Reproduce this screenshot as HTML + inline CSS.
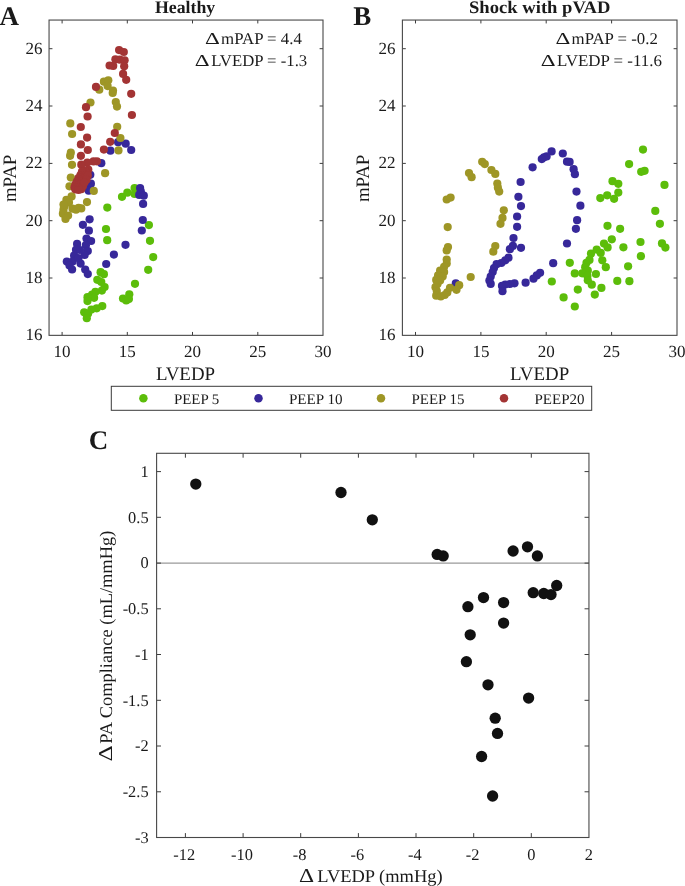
<!DOCTYPE html>
<html><head><meta charset="utf-8"><title>Figure</title>
<style>
html,body{margin:0;padding:0;background:#fff;}
body{width:685px;height:886px;overflow:hidden;}
svg{display:block;will-change:transform;}
text{font-family:"Liberation Serif",serif;fill:#1a1a1a;text-rendering:geometricPrecision;}
.tk{font-size:17px;}
.lb{font-size:19px;}
.an{font-size:16.4px;}
.tc{font-size:16.4px;}
.lc{font-size:17.9px;}
.lg{font-size:14.6px;}
.ti{font-size:17.6px;font-weight:bold;}
.pl{font-size:27px;font-weight:bold;}
</style></head><body>
<svg width="685" height="886" viewBox="0 0 685 886">
<rect width="685" height="886" fill="#fff"/>

<g id="panelA">
<circle cx="107.3" cy="207.6" r="4.1" fill="#5CBD0A"/><circle cx="106.0" cy="229.0" r="4.1" fill="#5CBD0A"/><circle cx="107.2" cy="240.2" r="4.1" fill="#5CBD0A"/><circle cx="122.0" cy="196.8" r="4.1" fill="#5CBD0A"/><circle cx="127.3" cy="192.7" r="4.1" fill="#5CBD0A"/><circle cx="134.6" cy="188.1" r="4.1" fill="#5CBD0A"/><circle cx="134.6" cy="193.9" r="4.1" fill="#5CBD0A"/><circle cx="148.9" cy="225.1" r="4.1" fill="#5CBD0A"/><circle cx="150.0" cy="240.8" r="4.1" fill="#5CBD0A"/><circle cx="153.2" cy="257.1" r="4.1" fill="#5CBD0A"/><circle cx="148.2" cy="269.8" r="4.1" fill="#5CBD0A"/><circle cx="135.0" cy="283.8" r="4.1" fill="#5CBD0A"/><circle cx="129.3" cy="294.3" r="4.1" fill="#5CBD0A"/><circle cx="123.0" cy="298.5" r="4.1" fill="#5CBD0A"/><circle cx="126.2" cy="300.4" r="4.1" fill="#5CBD0A"/><circle cx="128.9" cy="299.1" r="4.1" fill="#5CBD0A"/><circle cx="100.6" cy="272.2" r="4.1" fill="#5CBD0A"/><circle cx="103.9" cy="274.2" r="4.1" fill="#5CBD0A"/><circle cx="97.3" cy="279.8" r="4.1" fill="#5CBD0A"/><circle cx="101.3" cy="282.0" r="4.1" fill="#5CBD0A"/><circle cx="104.6" cy="287.0" r="4.1" fill="#5CBD0A"/><circle cx="101.9" cy="290.6" r="4.1" fill="#5CBD0A"/><circle cx="95.4" cy="291.9" r="4.1" fill="#5CBD0A"/><circle cx="92.1" cy="294.5" r="4.1" fill="#5CBD0A"/><circle cx="94.1" cy="297.8" r="4.1" fill="#5CBD0A"/><circle cx="87.5" cy="297.2" r="4.1" fill="#5CBD0A"/><circle cx="87.5" cy="301.1" r="4.1" fill="#5CBD0A"/><circle cx="102.3" cy="306.1" r="4.1" fill="#5CBD0A"/><circle cx="96.7" cy="308.3" r="4.1" fill="#5CBD0A"/><circle cx="91.4" cy="309.6" r="4.1" fill="#5CBD0A"/><circle cx="84.2" cy="312.3" r="4.1" fill="#5CBD0A"/><circle cx="88.1" cy="313.6" r="4.1" fill="#5CBD0A"/><circle cx="86.8" cy="318.2" r="4.1" fill="#5CBD0A"/><circle cx="118.1" cy="142.2" r="4.1" fill="#37289A"/><circle cx="125.7" cy="143.7" r="4.1" fill="#37289A"/><circle cx="110.4" cy="150.7" r="4.1" fill="#37289A"/><circle cx="131.2" cy="150.0" r="4.1" fill="#37289A"/><circle cx="101.3" cy="163.2" r="4.1" fill="#37289A"/><circle cx="90.3" cy="174.8" r="4.1" fill="#37289A"/><circle cx="90.9" cy="183.7" r="4.1" fill="#37289A"/><circle cx="89.6" cy="186.8" r="4.1" fill="#37289A"/><circle cx="88.7" cy="190.7" r="4.1" fill="#37289A"/><circle cx="140.1" cy="188.1" r="4.1" fill="#37289A"/><circle cx="140.8" cy="191.3" r="4.1" fill="#37289A"/><circle cx="139.2" cy="194.9" r="4.1" fill="#37289A"/><circle cx="143.8" cy="195.7" r="4.1" fill="#37289A"/><circle cx="143.1" cy="203.9" r="4.1" fill="#37289A"/><circle cx="142.8" cy="220.0" r="4.1" fill="#37289A"/><circle cx="141.8" cy="230.5" r="4.1" fill="#37289A"/><circle cx="125.5" cy="244.8" r="4.1" fill="#37289A"/><circle cx="113.9" cy="254.6" r="4.1" fill="#37289A"/><circle cx="106.2" cy="264.0" r="4.1" fill="#37289A"/><circle cx="89.6" cy="219.3" r="4.1" fill="#37289A"/><circle cx="82.9" cy="224.8" r="4.1" fill="#37289A"/><circle cx="88.9" cy="230.7" r="4.1" fill="#37289A"/><circle cx="86.5" cy="238.6" r="4.1" fill="#37289A"/><circle cx="91.1" cy="241.0" r="4.1" fill="#37289A"/><circle cx="77.1" cy="243.9" r="4.1" fill="#37289A"/><circle cx="85.9" cy="245.2" r="4.1" fill="#37289A"/><circle cx="76.0" cy="249.8" r="4.1" fill="#37289A"/><circle cx="87.8" cy="251.1" r="4.1" fill="#37289A"/><circle cx="84.6" cy="255.0" r="4.1" fill="#37289A"/><circle cx="74.1" cy="255.7" r="4.1" fill="#37289A"/><circle cx="66.8" cy="261.6" r="4.1" fill="#37289A"/><circle cx="72.7" cy="261.6" r="4.1" fill="#37289A"/><circle cx="80.6" cy="263.6" r="4.1" fill="#37289A"/><circle cx="69.5" cy="265.5" r="4.1" fill="#37289A"/><circle cx="72.1" cy="269.5" r="4.1" fill="#37289A"/><circle cx="85.2" cy="269.5" r="4.1" fill="#37289A"/><circle cx="87.8" cy="274.1" r="4.1" fill="#37289A"/><circle cx="80.0" cy="250.0" r="4.1" fill="#37289A"/><circle cx="78.5" cy="258.0" r="4.1" fill="#37289A"/><circle cx="103.9" cy="81.7" r="4.1" fill="#9E9626"/><circle cx="108.3" cy="80.3" r="4.1" fill="#9E9626"/><circle cx="107.6" cy="86.1" r="4.1" fill="#9E9626"/><circle cx="99.3" cy="89.7" r="4.1" fill="#9E9626"/><circle cx="113.0" cy="90.5" r="4.1" fill="#9E9626"/><circle cx="112.7" cy="93.0" r="4.1" fill="#9E9626"/><circle cx="90.5" cy="102.5" r="4.1" fill="#9E9626"/><circle cx="115.8" cy="102.1" r="4.1" fill="#9E9626"/><circle cx="117.0" cy="106.6" r="4.1" fill="#9E9626"/><circle cx="70.3" cy="123.4" r="4.1" fill="#9E9626"/><circle cx="117.2" cy="126.8" r="4.1" fill="#9E9626"/><circle cx="72.1" cy="134.0" r="4.1" fill="#9E9626"/><circle cx="120.4" cy="138.0" r="4.1" fill="#9E9626"/><circle cx="118.5" cy="150.4" r="4.1" fill="#9E9626"/><circle cx="70.8" cy="152.7" r="4.1" fill="#9E9626"/><circle cx="70.1" cy="155.8" r="4.1" fill="#9E9626"/><circle cx="72.0" cy="164.8" r="4.1" fill="#9E9626"/><circle cx="105.1" cy="173.2" r="4.1" fill="#9E9626"/><circle cx="70.8" cy="177.6" r="4.1" fill="#9E9626"/><circle cx="69.5" cy="186.3" r="4.1" fill="#9E9626"/><circle cx="93.8" cy="190.9" r="4.1" fill="#9E9626"/><circle cx="71.6" cy="196.4" r="4.1" fill="#9E9626"/><circle cx="66.4" cy="199.9" r="4.1" fill="#9E9626"/><circle cx="69.0" cy="202.4" r="4.1" fill="#9E9626"/><circle cx="87.0" cy="202.1" r="4.1" fill="#9E9626"/><circle cx="64.6" cy="206.1" r="4.1" fill="#9E9626"/><circle cx="78.6" cy="207.8" r="4.1" fill="#9E9626"/><circle cx="72.5" cy="208.7" r="4.1" fill="#9E9626"/><circle cx="81.3" cy="208.4" r="4.1" fill="#9E9626"/><circle cx="76.0" cy="209.7" r="4.1" fill="#9E9626"/><circle cx="63.5" cy="209.7" r="4.1" fill="#9E9626"/><circle cx="62.9" cy="213.7" r="4.1" fill="#9E9626"/><circle cx="68.1" cy="215.6" r="4.1" fill="#9E9626"/><circle cx="65.5" cy="218.9" r="4.1" fill="#9E9626"/><circle cx="63.5" cy="204.5" r="4.1" fill="#9E9626"/><circle cx="119.1" cy="50.1" r="4.1" fill="#A33434"/><circle cx="123.8" cy="52.0" r="4.1" fill="#A33434"/><circle cx="115.4" cy="59.3" r="4.1" fill="#A33434"/><circle cx="119.8" cy="59.7" r="4.1" fill="#A33434"/><circle cx="124.6" cy="60.3" r="4.1" fill="#A33434"/><circle cx="109.6" cy="65.5" r="4.1" fill="#A33434"/><circle cx="113.2" cy="65.9" r="4.1" fill="#A33434"/><circle cx="124.2" cy="66.3" r="4.1" fill="#A33434"/><circle cx="123.1" cy="73.9" r="4.1" fill="#A33434"/><circle cx="126.2" cy="79.8" r="4.1" fill="#A33434"/><circle cx="96.0" cy="86.9" r="4.1" fill="#A33434"/><circle cx="131.2" cy="93.8" r="4.1" fill="#A33434"/><circle cx="86.0" cy="107.2" r="4.1" fill="#A33434"/><circle cx="87.6" cy="116.5" r="4.1" fill="#A33434"/><circle cx="131.9" cy="115.0" r="4.1" fill="#A33434"/><circle cx="80.8" cy="127.0" r="4.1" fill="#A33434"/><circle cx="114.8" cy="133.0" r="4.1" fill="#A33434"/><circle cx="87.1" cy="137.6" r="4.1" fill="#A33434"/><circle cx="110.2" cy="141.8" r="4.1" fill="#A33434"/><circle cx="80.9" cy="144.4" r="4.1" fill="#A33434"/><circle cx="87.8" cy="150.0" r="4.1" fill="#A33434"/><circle cx="103.9" cy="149.6" r="4.1" fill="#A33434"/><circle cx="80.9" cy="155.8" r="4.1" fill="#A33434"/><circle cx="96.9" cy="161.3" r="4.1" fill="#A33434"/><circle cx="93.5" cy="161.4" r="4.1" fill="#A33434"/><circle cx="87.3" cy="162.6" r="4.1" fill="#A33434"/><circle cx="81.3" cy="164.7" r="4.1" fill="#A33434"/><circle cx="88.3" cy="169.7" r="4.1" fill="#A33434"/><circle cx="85.0" cy="170.5" r="4.1" fill="#A33434"/><circle cx="82.0" cy="171.5" r="4.1" fill="#A33434"/><circle cx="86.5" cy="172.8" r="4.1" fill="#A33434"/><circle cx="83.5" cy="173.8" r="4.1" fill="#A33434"/><circle cx="80.5" cy="175.0" r="4.1" fill="#A33434"/><circle cx="84.8" cy="175.8" r="4.1" fill="#A33434"/><circle cx="81.5" cy="177.0" r="4.1" fill="#A33434"/><circle cx="78.5" cy="178.2" r="4.1" fill="#A33434"/><circle cx="83.0" cy="178.8" r="4.1" fill="#A33434"/><circle cx="79.8" cy="180.0" r="4.1" fill="#A33434"/><circle cx="77.0" cy="181.3" r="4.1" fill="#A33434"/><circle cx="81.0" cy="181.8" r="4.1" fill="#A33434"/><circle cx="78.0" cy="183.0" r="4.1" fill="#A33434"/><circle cx="75.5" cy="184.3" r="4.1" fill="#A33434"/><circle cx="79.0" cy="184.8" r="4.1" fill="#A33434"/><circle cx="76.3" cy="186.0" r="4.1" fill="#A33434"/><circle cx="74.5" cy="187.3" r="4.1" fill="#A33434"/><circle cx="77.5" cy="187.8" r="4.1" fill="#A33434"/><circle cx="75.3" cy="189.3" r="4.1" fill="#A33434"/><circle cx="87.8" cy="175.4" r="4.1" fill="#A33434"/><circle cx="86.5" cy="179.8" r="4.1" fill="#A33434"/><circle cx="83.0" cy="185.9" r="4.1" fill="#A33434"/><circle cx="81.3" cy="189.2" r="4.1" fill="#A33434"/><circle cx="78.5" cy="190.0" r="4.1" fill="#A33434"/><circle cx="84.5" cy="182.5" r="4.1" fill="#A33434"/>
<path d="M62.1 335.35V331.95000000000005M62.1 20.05V23.45" stroke="#3c3c3c" stroke-width="1"/><path d="M127.3 335.35V331.95000000000005M127.3 20.05V23.45" stroke="#3c3c3c" stroke-width="1"/><path d="M192.5 335.35V331.95000000000005M192.5 20.05V23.45" stroke="#3c3c3c" stroke-width="1"/><path d="M257.8 335.35V331.95000000000005M257.8 20.05V23.45" stroke="#3c3c3c" stroke-width="1"/><path d="M49.05 278.0H52.449999999999996M323.0 278.0H319.6" stroke="#3c3c3c" stroke-width="1"/><path d="M49.05 220.7H52.449999999999996M323.0 220.7H319.6" stroke="#3c3c3c" stroke-width="1"/><path d="M49.05 163.4H52.449999999999996M323.0 163.4H319.6" stroke="#3c3c3c" stroke-width="1"/><path d="M49.05 106.0H52.449999999999996M323.0 106.0H319.6" stroke="#3c3c3c" stroke-width="1"/><path d="M49.05 48.7H52.449999999999996M323.0 48.7H319.6" stroke="#3c3c3c" stroke-width="1"/><rect x="49.05" y="20.05" width="273.95" height="315.3" fill="none" stroke="#484848" stroke-width="1.1"/>
<text class="tk" x="62.1" y="357.2" text-anchor="middle">10</text>
<text class="tk" x="127.3" y="357.2" text-anchor="middle">15</text>
<text class="tk" x="192.5" y="357.2" text-anchor="middle">20</text>
<text class="tk" x="257.8" y="357.2" text-anchor="middle">25</text>
<text class="tk" x="323.0" y="357.2" text-anchor="middle">30</text>
<text class="tk" x="42.6" y="340.2" text-anchor="end">16</text>
<text class="tk" x="42.6" y="282.9" text-anchor="end">18</text>
<text class="tk" x="42.6" y="225.6" text-anchor="end">20</text>
<text class="tk" x="42.6" y="168.3" text-anchor="end">22</text>
<text class="tk" x="42.6" y="110.9" text-anchor="end">24</text>
<text class="tk" x="42.6" y="53.6" text-anchor="end">26</text>
<text class="ti" x="155.0" y="12.7" textLength="60.2" lengthAdjust="spacingAndGlyphs">Healthy</text>
<text class="pl" x="-0.4" y="24.8">A</text>
<text class="lb" x="155.9" y="379.8" textLength="59.2" lengthAdjust="spacingAndGlyphs">LVEDP</text>
<text class="lb" transform="translate(16.3,202.1) rotate(-90)" textLength="47.4" lengthAdjust="spacingAndGlyphs">mPAP</text>
<text font-size="16.7" transform="translate(204.9,44.1) scale(1.38,1)">Δ</text><text class="an" x="221.1" y="44.1" textLength="80.8" lengthAdjust="spacingAndGlyphs">mPAP = 4.4</text>
<text font-size="16.7" transform="translate(194.8,65.9) scale(1.38,1)">Δ</text><text class="an" x="211.2" y="65.9" textLength="96.0" lengthAdjust="spacingAndGlyphs">LVEDP = -1.3</text>
</g>
<g id="panelB">
<circle cx="643.0" cy="149.6" r="4.1" fill="#5CBD0A"/><circle cx="629.1" cy="164.1" r="4.1" fill="#5CBD0A"/><circle cx="641.2" cy="171.8" r="4.1" fill="#5CBD0A"/><circle cx="644.6" cy="170.8" r="4.1" fill="#5CBD0A"/><circle cx="612.5" cy="181.2" r="4.1" fill="#5CBD0A"/><circle cx="618.3" cy="183.8" r="4.1" fill="#5CBD0A"/><circle cx="664.5" cy="184.9" r="4.1" fill="#5CBD0A"/><circle cx="618.3" cy="192.6" r="4.1" fill="#5CBD0A"/><circle cx="607.2" cy="195.3" r="4.1" fill="#5CBD0A"/><circle cx="600.3" cy="198.1" r="4.1" fill="#5CBD0A"/><circle cx="614.1" cy="198.8" r="4.1" fill="#5CBD0A"/><circle cx="655.3" cy="210.9" r="4.1" fill="#5CBD0A"/><circle cx="659.9" cy="223.8" r="4.1" fill="#5CBD0A"/><circle cx="607.5" cy="225.8" r="4.1" fill="#5CBD0A"/><circle cx="620.1" cy="228.8" r="4.1" fill="#5CBD0A"/><circle cx="611.8" cy="239.3" r="4.1" fill="#5CBD0A"/><circle cx="640.5" cy="242.0" r="4.1" fill="#5CBD0A"/><circle cx="662.0" cy="243.4" r="4.1" fill="#5CBD0A"/><circle cx="665.4" cy="247.6" r="4.1" fill="#5CBD0A"/><circle cx="604.0" cy="243.6" r="4.1" fill="#5CBD0A"/><circle cx="607.6" cy="247.4" r="4.1" fill="#5CBD0A"/><circle cx="623.4" cy="247.3" r="4.1" fill="#5CBD0A"/><circle cx="596.7" cy="249.6" r="4.1" fill="#5CBD0A"/><circle cx="600.7" cy="252.9" r="4.1" fill="#5CBD0A"/><circle cx="591.0" cy="253.6" r="4.1" fill="#5CBD0A"/><circle cx="640.9" cy="256.2" r="4.1" fill="#5CBD0A"/><circle cx="602.3" cy="260.3" r="4.1" fill="#5CBD0A"/><circle cx="589.5" cy="259.9" r="4.1" fill="#5CBD0A"/><circle cx="586.5" cy="262.8" r="4.1" fill="#5CBD0A"/><circle cx="569.8" cy="262.8" r="4.1" fill="#5CBD0A"/><circle cx="585.2" cy="267.2" r="4.1" fill="#5CBD0A"/><circle cx="605.8" cy="267.2" r="4.1" fill="#5CBD0A"/><circle cx="628.1" cy="266.3" r="4.1" fill="#5CBD0A"/><circle cx="587.8" cy="270.7" r="4.1" fill="#5CBD0A"/><circle cx="582.2" cy="273.3" r="4.1" fill="#5CBD0A"/><circle cx="574.8" cy="273.4" r="4.1" fill="#5CBD0A"/><circle cx="595.9" cy="274.0" r="4.1" fill="#5CBD0A"/><circle cx="587.4" cy="275.9" r="4.1" fill="#5CBD0A"/><circle cx="587.8" cy="280.3" r="4.1" fill="#5CBD0A"/><circle cx="617.3" cy="280.9" r="4.1" fill="#5CBD0A"/><circle cx="629.4" cy="281.2" r="4.1" fill="#5CBD0A"/><circle cx="551.8" cy="281.5" r="4.1" fill="#5CBD0A"/><circle cx="591.8" cy="284.7" r="4.1" fill="#5CBD0A"/><circle cx="601.4" cy="287.9" r="4.1" fill="#5CBD0A"/><circle cx="577.8" cy="289.6" r="4.1" fill="#5CBD0A"/><circle cx="594.8" cy="294.6" r="4.1" fill="#5CBD0A"/><circle cx="563.6" cy="297.4" r="4.1" fill="#5CBD0A"/><circle cx="574.8" cy="306.5" r="4.1" fill="#5CBD0A"/><circle cx="455.8" cy="283.4" r="4.1" fill="#37289A"/><circle cx="551.6" cy="151.4" r="4.1" fill="#37289A"/><circle cx="562.8" cy="153.5" r="4.1" fill="#37289A"/><circle cx="546.6" cy="156.4" r="4.1" fill="#37289A"/><circle cx="544.0" cy="157.3" r="4.1" fill="#37289A"/><circle cx="541.8" cy="159.1" r="4.1" fill="#37289A"/><circle cx="567.0" cy="161.7" r="4.1" fill="#37289A"/><circle cx="569.6" cy="161.9" r="4.1" fill="#37289A"/><circle cx="532.6" cy="167.3" r="4.1" fill="#37289A"/><circle cx="573.6" cy="169.2" r="4.1" fill="#37289A"/><circle cx="574.9" cy="174.2" r="4.1" fill="#37289A"/><circle cx="520.6" cy="182.0" r="4.1" fill="#37289A"/><circle cx="576.5" cy="191.6" r="4.1" fill="#37289A"/><circle cx="518.4" cy="196.8" r="4.1" fill="#37289A"/><circle cx="580.4" cy="205.7" r="4.1" fill="#37289A"/><circle cx="521.0" cy="206.1" r="4.1" fill="#37289A"/><circle cx="517.1" cy="216.5" r="4.1" fill="#37289A"/><circle cx="577.1" cy="220.2" r="4.1" fill="#37289A"/><circle cx="517.1" cy="226.8" r="4.1" fill="#37289A"/><circle cx="575.9" cy="228.8" r="4.1" fill="#37289A"/><circle cx="513.5" cy="238.0" r="4.1" fill="#37289A"/><circle cx="567.0" cy="243.5" r="4.1" fill="#37289A"/><circle cx="512.9" cy="245.9" r="4.1" fill="#37289A"/><circle cx="509.9" cy="249.2" r="4.1" fill="#37289A"/><circle cx="521.0" cy="247.8" r="4.1" fill="#37289A"/><circle cx="508.5" cy="257.7" r="4.1" fill="#37289A"/><circle cx="505.3" cy="260.3" r="4.1" fill="#37289A"/><circle cx="501.3" cy="263.0" r="4.1" fill="#37289A"/><circle cx="553.2" cy="263.2" r="4.1" fill="#37289A"/><circle cx="540.1" cy="272.8" r="4.1" fill="#37289A"/><circle cx="536.8" cy="275.4" r="4.1" fill="#37289A"/><circle cx="533.5" cy="278.7" r="4.1" fill="#37289A"/><circle cx="525.6" cy="282.7" r="4.1" fill="#37289A"/><circle cx="514.5" cy="283.3" r="4.1" fill="#37289A"/><circle cx="509.9" cy="284.0" r="4.1" fill="#37289A"/><circle cx="505.3" cy="284.6" r="4.1" fill="#37289A"/><circle cx="502.0" cy="285.9" r="4.1" fill="#37289A"/><circle cx="502.5" cy="291.2" r="4.1" fill="#37289A"/><circle cx="496.6" cy="264.2" r="4.1" fill="#37289A"/><circle cx="494.0" cy="268.1" r="4.1" fill="#37289A"/><circle cx="492.7" cy="272.0" r="4.1" fill="#37289A"/><circle cx="490.7" cy="276.6" r="4.1" fill="#37289A"/><circle cx="489.4" cy="280.6" r="4.1" fill="#37289A"/><circle cx="490.7" cy="283.9" r="4.1" fill="#37289A"/><circle cx="482.2" cy="161.8" r="4.1" fill="#9E9626"/><circle cx="484.8" cy="164.1" r="4.1" fill="#9E9626"/><circle cx="491.4" cy="170.0" r="4.1" fill="#9E9626"/><circle cx="495.3" cy="173.9" r="4.1" fill="#9E9626"/><circle cx="469.0" cy="173.0" r="4.1" fill="#9E9626"/><circle cx="471.6" cy="177.2" r="4.1" fill="#9E9626"/><circle cx="497.3" cy="183.5" r="4.1" fill="#9E9626"/><circle cx="497.9" cy="187.7" r="4.1" fill="#9E9626"/><circle cx="499.2" cy="191.6" r="4.1" fill="#9E9626"/><circle cx="446.7" cy="199.5" r="4.1" fill="#9E9626"/><circle cx="450.6" cy="197.6" r="4.1" fill="#9E9626"/><circle cx="503.8" cy="210.3" r="4.1" fill="#9E9626"/><circle cx="502.5" cy="217.9" r="4.1" fill="#9E9626"/><circle cx="500.5" cy="223.8" r="4.1" fill="#9E9626"/><circle cx="447.7" cy="227.1" r="4.1" fill="#9E9626"/><circle cx="448.0" cy="247.1" r="4.1" fill="#9E9626"/><circle cx="446.7" cy="250.4" r="4.1" fill="#9E9626"/><circle cx="446.7" cy="259.6" r="4.1" fill="#9E9626"/><circle cx="446.7" cy="263.5" r="4.1" fill="#9E9626"/><circle cx="444.1" cy="266.8" r="4.1" fill="#9E9626"/><circle cx="440.1" cy="270.7" r="4.1" fill="#9E9626"/><circle cx="444.1" cy="272.0" r="4.1" fill="#9E9626"/><circle cx="438.1" cy="275.3" r="4.1" fill="#9E9626"/><circle cx="442.7" cy="276.6" r="4.1" fill="#9E9626"/><circle cx="436.2" cy="279.9" r="4.1" fill="#9E9626"/><circle cx="440.1" cy="280.6" r="4.1" fill="#9E9626"/><circle cx="437.5" cy="283.9" r="4.1" fill="#9E9626"/><circle cx="435.5" cy="287.2" r="4.1" fill="#9E9626"/><circle cx="436.8" cy="291.1" r="4.1" fill="#9E9626"/><circle cx="436.2" cy="295.7" r="4.1" fill="#9E9626"/><circle cx="440.8" cy="296.4" r="4.1" fill="#9E9626"/><circle cx="444.7" cy="295.0" r="4.1" fill="#9E9626"/><circle cx="447.3" cy="292.4" r="4.1" fill="#9E9626"/><circle cx="450.0" cy="287.8" r="4.1" fill="#9E9626"/><circle cx="456.5" cy="289.8" r="4.1" fill="#9E9626"/><circle cx="459.2" cy="285.2" r="4.1" fill="#9E9626"/><circle cx="470.7" cy="277.0" r="4.1" fill="#9E9626"/><circle cx="495.3" cy="246.0" r="4.1" fill="#9E9626"/><circle cx="493.3" cy="251.7" r="4.1" fill="#9E9626"/>
<path d="M415.5 335.35V331.95000000000005M415.5 20.05V23.45" stroke="#3c3c3c" stroke-width="1"/><path d="M480.9 335.35V331.95000000000005M480.9 20.05V23.45" stroke="#3c3c3c" stroke-width="1"/><path d="M546.2 335.35V331.95000000000005M546.2 20.05V23.45" stroke="#3c3c3c" stroke-width="1"/><path d="M611.6 335.35V331.95000000000005M611.6 20.05V23.45" stroke="#3c3c3c" stroke-width="1"/><path d="M402.4 278.0H405.79999999999995M677.0 278.0H673.6" stroke="#3c3c3c" stroke-width="1"/><path d="M402.4 220.7H405.79999999999995M677.0 220.7H673.6" stroke="#3c3c3c" stroke-width="1"/><path d="M402.4 163.4H405.79999999999995M677.0 163.4H673.6" stroke="#3c3c3c" stroke-width="1"/><path d="M402.4 106.0H405.79999999999995M677.0 106.0H673.6" stroke="#3c3c3c" stroke-width="1"/><path d="M402.4 48.7H405.79999999999995M677.0 48.7H673.6" stroke="#3c3c3c" stroke-width="1"/><rect x="402.4" y="20.05" width="274.6" height="315.3" fill="none" stroke="#484848" stroke-width="1.1"/>
<text class="tk" x="415.5" y="357.2" text-anchor="middle">10</text>
<text class="tk" x="480.9" y="357.2" text-anchor="middle">15</text>
<text class="tk" x="546.2" y="357.2" text-anchor="middle">20</text>
<text class="tk" x="611.6" y="357.2" text-anchor="middle">25</text>
<text class="tk" x="677.0" y="357.2" text-anchor="middle">30</text>
<text class="tk" x="395.6" y="340.2" text-anchor="end">16</text>
<text class="tk" x="395.6" y="282.9" text-anchor="end">18</text>
<text class="tk" x="395.6" y="225.6" text-anchor="end">20</text>
<text class="tk" x="395.6" y="168.3" text-anchor="end">22</text>
<text class="tk" x="395.6" y="110.9" text-anchor="end">24</text>
<text class="tk" x="395.6" y="53.6" text-anchor="end">26</text>
<text class="ti" x="469.0" y="12.7" textLength="141.4" lengthAdjust="spacingAndGlyphs">Shock with pVAD</text>
<text class="pl" x="353.3" y="24.8">B</text>
<text class="lb" x="510.0" y="379.8" textLength="59.2" lengthAdjust="spacingAndGlyphs">LVEDP</text>
<text class="lb" transform="translate(369.2,202.1) rotate(-90)" textLength="47.4" lengthAdjust="spacingAndGlyphs">mPAP</text>
<text font-size="16.7" transform="translate(555.6,43.9) scale(1.38,1)">Δ</text><text class="an" x="571.6" y="43.9" textLength="86.2" lengthAdjust="spacingAndGlyphs">mPAP = -0.2</text>
<text font-size="16.7" transform="translate(540.8,65.6) scale(1.38,1)">Δ</text><text class="an" x="556.9" y="65.6" textLength="105.0" lengthAdjust="spacingAndGlyphs">LVEDP = -11.6</text>
</g>
<g id="legend">
<rect x="111.3" y="386.3" width="480.4" height="24.0" fill="#fff" stroke="#3a3a3a" stroke-width="1"/>
<circle cx="143.4" cy="398.2" r="4.25" fill="#5CBD0A"/>
<text class="lg" x="173.9" y="403.8" textLength="45.4" lengthAdjust="spacingAndGlyphs">PEEP 5</text>
<circle cx="258.5" cy="398.2" r="4.25" fill="#37289A"/>
<text class="lg" x="288.9" y="403.8" textLength="53.6" lengthAdjust="spacingAndGlyphs">PEEP 10</text>
<circle cx="381.0" cy="398.2" r="4.25" fill="#9E9626"/>
<text class="lg" x="411.5" y="403.8" textLength="53.0" lengthAdjust="spacingAndGlyphs">PEEP 15</text>
<circle cx="504.0" cy="398.2" r="4.25" fill="#A33434"/>
<text class="lg" x="534.5" y="403.8" textLength="50.0" lengthAdjust="spacingAndGlyphs">PEEP20</text>
</g>
<g id="panelC">
<path d="M156.6 563.1H588.95" stroke="#9a9a9a" stroke-width="1.2"/>
<circle cx="195.8" cy="484.1" r="5.65" fill="#111"/><circle cx="341.0" cy="492.5" r="5.65" fill="#111"/><circle cx="372.3" cy="519.8" r="5.65" fill="#111"/><circle cx="437.2" cy="554.4" r="5.65" fill="#111"/><circle cx="443.2" cy="555.9" r="5.65" fill="#111"/><circle cx="513.1" cy="551.0" r="5.65" fill="#111"/><circle cx="527.5" cy="546.8" r="5.65" fill="#111"/><circle cx="537.4" cy="555.9" r="5.65" fill="#111"/><circle cx="556.7" cy="585.5" r="5.65" fill="#111"/><circle cx="533.2" cy="592.7" r="5.65" fill="#111"/><circle cx="543.8" cy="593.5" r="5.65" fill="#111"/><circle cx="551.0" cy="594.6" r="5.65" fill="#111"/><circle cx="483.5" cy="597.6" r="5.65" fill="#111"/><circle cx="467.9" cy="606.7" r="5.65" fill="#111"/><circle cx="503.6" cy="602.6" r="5.65" fill="#111"/><circle cx="503.6" cy="623.1" r="5.65" fill="#111"/><circle cx="470.2" cy="634.8" r="5.65" fill="#111"/><circle cx="466.4" cy="661.7" r="5.65" fill="#111"/><circle cx="488.0" cy="684.8" r="5.65" fill="#111"/><circle cx="528.6" cy="698.1" r="5.65" fill="#111"/><circle cx="495.2" cy="718.2" r="5.65" fill="#111"/><circle cx="497.5" cy="733.4" r="5.65" fill="#111"/><circle cx="481.6" cy="756.5" r="5.65" fill="#111"/><circle cx="492.6" cy="796.0" r="5.65" fill="#111"/>
<path d="M185.4 837.5V833.1M185.4 453.3V457.7" stroke="#3c3c3c" stroke-width="1"/><path d="M243.1 837.5V833.1M243.1 453.3V457.7" stroke="#3c3c3c" stroke-width="1"/><path d="M300.7 837.5V833.1M300.7 453.3V457.7" stroke="#3c3c3c" stroke-width="1"/><path d="M358.4 837.5V833.1M358.4 453.3V457.7" stroke="#3c3c3c" stroke-width="1"/><path d="M416.0 837.5V833.1M416.0 453.3V457.7" stroke="#3c3c3c" stroke-width="1"/><path d="M473.7 837.5V833.1M473.7 453.3V457.7" stroke="#3c3c3c" stroke-width="1"/><path d="M531.3 837.5V833.1M531.3 453.3V457.7" stroke="#3c3c3c" stroke-width="1"/><path d="M156.6 471.6H161.0M588.95 471.6H584.5500000000001" stroke="#3c3c3c" stroke-width="1"/><path d="M156.6 517.3H161.0M588.95 517.3H584.5500000000001" stroke="#3c3c3c" stroke-width="1"/><path d="M156.6 563.1H161.0M588.95 563.1H584.5500000000001" stroke="#3c3c3c" stroke-width="1"/><path d="M156.6 608.8H161.0M588.95 608.8H584.5500000000001" stroke="#3c3c3c" stroke-width="1"/><path d="M156.6 654.5H161.0M588.95 654.5H584.5500000000001" stroke="#3c3c3c" stroke-width="1"/><path d="M156.6 700.3H161.0M588.95 700.3H584.5500000000001" stroke="#3c3c3c" stroke-width="1"/><path d="M156.6 746.0H161.0M588.95 746.0H584.5500000000001" stroke="#3c3c3c" stroke-width="1"/><path d="M156.6 791.8H161.0M588.95 791.8H584.5500000000001" stroke="#3c3c3c" stroke-width="1"/><rect x="156.6" y="453.3" width="432.35" height="384.2" fill="none" stroke="#484848" stroke-width="1.1"/>
<text class="tc" x="184.3" y="859.7" text-anchor="middle">-12</text>
<text class="tc" x="242.0" y="859.7" text-anchor="middle">-10</text>
<text class="tc" x="299.6" y="859.7" text-anchor="middle">-8</text>
<text class="tc" x="357.3" y="859.7" text-anchor="middle">-6</text>
<text class="tc" x="414.9" y="859.7" text-anchor="middle">-4</text>
<text class="tc" x="472.6" y="859.7" text-anchor="middle">-2</text>
<text class="tc" x="531.3" y="859.7" text-anchor="middle">0</text>
<text class="tc" x="588.9" y="859.7" text-anchor="middle">2</text>
<text class="tc" x="148.6" y="476.8" text-anchor="end">1</text>
<text class="tc" x="148.6" y="522.5" text-anchor="end">0.5</text>
<text class="tc" x="148.6" y="568.3" text-anchor="end">0</text>
<text class="tc" x="148.6" y="614.0" text-anchor="end">-0.5</text>
<text class="tc" x="148.6" y="659.7" text-anchor="end">-1</text>
<text class="tc" x="148.6" y="705.5" text-anchor="end">-1.5</text>
<text class="tc" x="148.6" y="751.2" text-anchor="end">-2</text>
<text class="tc" x="148.6" y="797.0" text-anchor="end">-2.5</text>
<text class="tc" x="148.6" y="842.7" text-anchor="end">-3</text>
<text class="pl" x="88.8" y="448.5">C</text>
<text font-size="19.6" transform="translate(299.0,881.6) scale(1.2,1)">Δ</text><text class="lc" x="317.3" y="881.6" textLength="125.3" lengthAdjust="spacingAndGlyphs">LVEDP (mmHg)</text>
<text font-size="19.6" transform="translate(112.1,761.4) rotate(-90) scale(1.28,1)">Δ</text><text class="lc" transform="translate(112.1,743.7) rotate(-90)" textLength="213.0" lengthAdjust="spacingAndGlyphs">PA Compliance (mL/mmHg)</text>
</g>
</svg></body></html>
